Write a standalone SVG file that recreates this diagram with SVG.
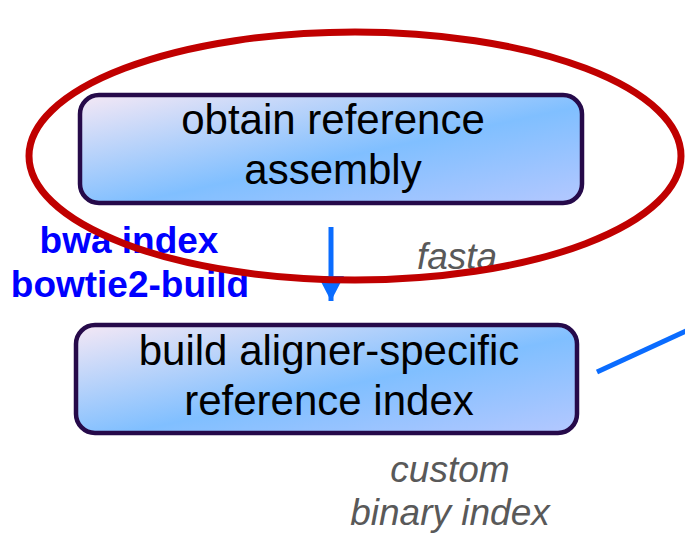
<svg xmlns="http://www.w3.org/2000/svg" width="685" height="541" viewBox="0 0 685 541">
<defs>
<linearGradient id="nodeFill" x1="0" y1="0" x2="1" y2="1">
<stop offset="0" stop-color="#f5e8f5"/>
<stop offset="0.55" stop-color="#80bfff"/>
<stop offset="1" stop-color="#b4c8ff"/>
</linearGradient>
<marker id="arr" viewBox="0 0 25 26" refX="25" refY="13" markerWidth="25" markerHeight="26" orient="auto" markerUnits="userSpaceOnUse">
<path d="M0,0 L25,13 L0,26 z" fill="#0a6cff"/>
</marker>
<style>
.node rect{fill:url(#nodeFill);stroke:#260a4a;stroke-width:4.5}
.node text{font-family:"Liberation Sans",Arial,sans-serif;font-size:42px;fill:#000;text-anchor:middle}
.tool{font-family:"Liberation Sans",Arial,sans-serif;font-size:37px;font-weight:bold;fill:#0000ff;text-anchor:middle}
.data{font-family:"Liberation Sans",Arial,sans-serif;font-size:37px;font-style:italic;fill:#595959;text-anchor:middle}
.conn{stroke:#0a6cff;stroke-width:5;fill:none}
</style>
</defs>
<g id="node-obtain" class="node">
<rect x="80" y="95" width="502" height="108" rx="19"/>
<text x="333" y="134">obtain reference</text>
<text x="333" y="184">assembly</text>
</g>
<g id="node-build" class="node">
<rect x="76" y="325" width="501" height="108" rx="19"/>
<text x="329" y="365">build aligner-specific</text>
<text x="329" y="415">reference index</text>
</g>
<g id="connectors">
<line class="conn" x1="331" y1="227" x2="331" y2="301" marker-end="url(#arr)"/>
<line class="conn" x1="597" y1="372" x2="686" y2="331"/>
</g>
<g id="labels">
<text class="tool" x="129" y="253">bwa index</text>
<text class="tool" x="130" y="297">bowtie2-build</text>
<text class="data" x="457" y="269">fasta</text>
<text class="data" x="450" y="482">custom</text>
<text class="data" x="450" y="525">binary index</text>
</g>
<ellipse id="highlight" cx="355" cy="156" rx="326" ry="124" fill="none" stroke="#c00000" stroke-width="7"/>
</svg>
